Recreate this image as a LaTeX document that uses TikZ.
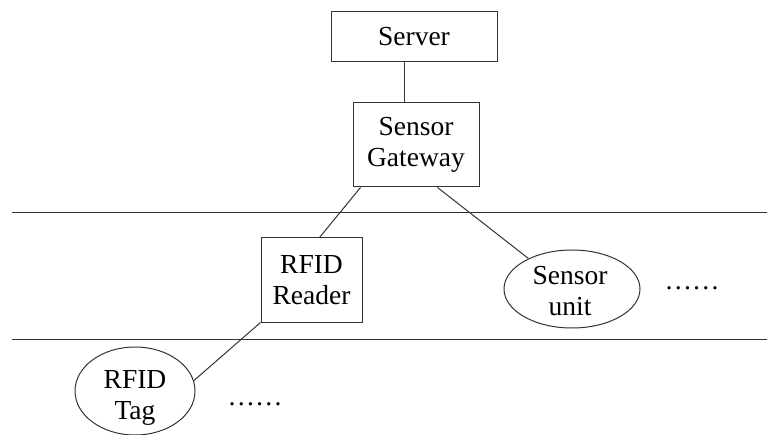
\documentclass[tikz,border=0pt]{standalone}
\usepackage{fontspec}
\setmainfont{Liberation Serif}
\newfontfamily\tnr{Liberation Serif}
\usetikzlibrary{shapes.geometric,calc}
\begin{document}
\begin{tikzpicture}[x=1pt,y=-1pt,
  ln/.style={draw=black!80,line width=1pt},
  txt/.style={font=\tnr\fontsize{27.5}{31}\selectfont,align=center,inner sep=0pt},
  bx/.style={ln,rectangle,inner sep=0pt,align=center,font=\tnr\fontsize{27.5}{31}\selectfont},
  ell/.style={ln,ellipse,inner sep=0pt},
  dotstxt/.style={font=\tnr\fontsize{27.5}{31}\selectfont,inner sep=0pt,anchor=base}]
\useasboundingbox (0,0) rectangle (767,435);
% layer lines
\coordinate (l1a) at (12,213);
\coordinate (l1b) at (767,213);
\coordinate (l2a) at (12,339);
\coordinate (l2b) at (767,339);
\draw[ln] (l1a) -- (l1b);
\draw[ln] (l2a) -- (l2b);
% nodes
\node[bx,minimum width=166,minimum height=50] (srv) at (414,37) {Server};
\node[bx,minimum width=126,minimum height=84] (gw) at (416,145) {Sensor\\Gateway};
\node[bx,minimum width=101,minimum height=84] (rd) at (311.5,280) {RFID\\Reader};
\node[ell,minimum width=136,minimum height=78] (su) at (572,289) {};
\node[txt] (sut) at (570,291) {Sensor\\unit};
\node[ell,minimum width=120,minimum height=88] (tg) at (135,391) {};
\node[txt] (tgt) at (135,398) {RFID\\Tag};
\node[dotstxt] (d1) at (692,289) {……};
\node[dotstxt] (d2) at (255,405) {……};
% connectors
\draw[ln] ([xshift=-12]gw.north) -- ([xshift=-12]gw.north |- srv.south);
\draw[ln] ([xshift=8]gw.south west) -- ([xshift=59]rd.north west);
\draw[ln] ([xshift=-42]gw.south east) -- (su.145);
\draw[ln] (rd.south west) -- (tg.10);
\end{tikzpicture}
\end{document}
